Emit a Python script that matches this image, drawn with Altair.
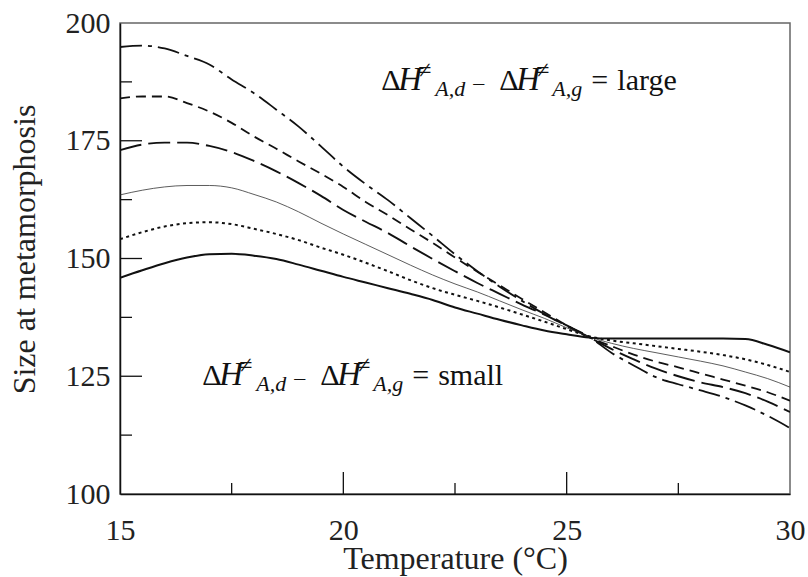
import altair as alt
import pandas as pd

# ---------------- data ----------------
temperature = [15.0, 15.5, 16.0, 16.5, 17.0, 17.5, 18.0, 18.5, 19.0, 19.5,
               20.0, 20.5, 21.0, 21.5, 22.0, 22.5, 23.0, 23.5, 24.0, 24.5,
               25.0, 25.5, 26.0, 26.5, 27.0, 27.5, 28.0, 28.5, 29.0, 29.5, 30.0]

curve_dashdot = [194.9, 195.2, 194.6, 193.0, 191.2, 188.0, 185.1, 181.6, 178.0, 173.8,
                 169.5, 165.8, 162.4, 158.6, 154.8, 150.9, 147.3, 144.0, 141.0, 138.2,
                 135.8, 133.4, 130.0, 127.3, 124.8, 123.3, 122.0, 120.6, 118.8, 116.6, 114.0]
curve_dashed = [184.0, 184.4, 184.4, 183.0, 181.2, 178.8, 175.9, 173.3, 170.6, 168.0,
                165.2, 162.0, 159.2, 156.2, 153.3, 150.2, 147.2, 144.3, 141.4, 138.6,
                135.8, 133.3, 131.4, 129.6, 128.1, 126.9, 125.6, 124.3, 123.0, 121.6, 119.8]
curve_longdash = [173.0, 174.2, 174.6, 174.6, 173.9, 172.6, 170.7, 168.5, 166.0, 163.3,
                  160.3, 157.8, 155.4, 152.6, 149.9, 147.3, 144.8, 142.5, 140.2, 138.1,
                  135.7, 133.3, 130.8, 128.6, 126.6, 125.0, 123.7, 122.7, 121.4, 119.6, 117.4]
curve_thin = [163.5, 164.5, 165.2, 165.5, 165.5, 165.0, 163.6, 162.0, 159.9, 157.5,
              155.2, 153.0, 150.8, 148.6, 146.5, 144.6, 142.9, 141.0, 139.1, 137.3,
              135.3, 133.4, 132.0, 130.9, 130.0, 129.1, 128.2, 127.2, 125.9, 124.5, 122.7]
curve_dotted = [154.1, 155.6, 156.8, 157.5, 157.7, 157.3, 156.3, 155.2, 153.9, 152.3,
                150.8, 149.1, 147.3, 145.4, 143.7, 142.3, 141.0, 139.6, 138.1, 136.6,
                135.0, 133.5, 132.6, 132.0, 131.4, 130.8, 130.2, 129.5, 128.6, 127.4, 125.9]
curve_solid = [145.9, 147.5, 149.0, 150.2, 150.9, 151.0, 150.6, 149.9, 148.7, 147.4,
               146.1, 144.9, 143.7, 142.5, 141.2, 139.6, 138.3, 137.0, 135.8, 134.7,
               133.9, 133.2, 133.0, 133.0, 133.0, 133.0, 133.0, 133.0, 132.9, 131.7, 130.1]

series_names = ["dashdot", "dashed", "longdash", "thin", "dotted", "solid"]
series_values = [curve_dashdot, curve_dashed, curve_longdash, curve_thin, curve_dotted, curve_solid]

x_major_ticks = [20, 25]
x_minor_ticks = [17.5, 22.5, 27.5]
y_major_ticks = [125, 150, 175]
y_minor_ticks = [112.5, 137.5, 162.5, 187.5]

x_label_values = [15, 20, 25, 30]
y_label_values = [100, 125, 150, 175, 200]

SERIF = "Liberation Serif"

xs = alt.Scale(domain=[15, 30], nice=False, zero=False)
ys = alt.Scale(domain=[100, 200], nice=False, zero=False)

x_axis = alt.Axis(values=x_label_values, ticks=False, tickSize=0, grid=False,
                  domainColor="#111", domainWidth=1.5,
                  labelFont=SERIF, labelFontSize=30, labelColor="#222",
                  labelPadding=21, labelFlush=False,
                  title="Temperature (\u00b0C)", titleFont=SERIF, titleFontSize=32,
                  titleFontWeight="normal", titleColor="#222",
                  titleY=74, titleBaseline="alphabetic")
y_axis = alt.Axis(values=y_label_values, ticks=False, tickSize=0, grid=False,
                  domainColor="#111", domainWidth=1.5,
                  labelFont=SERIF, labelFontSize=30, labelColor="#222",
                  labelPadding=10, labelFlush=False,
                  title="Size at metamorphosis", titleFont=SERIF, titleFontSize=32,
                  titleFontWeight="normal", titleColor="#222",
                  titleX=-86, titleY=226, titleAngle=270, titleAlign="center",
                  titleBaseline="alphabetic")


def X(field="T"):
    return alt.X(f"{field}:Q", scale=xs, axis=x_axis)


def Y(field="S"):
    return alt.Y(f"{field}:Q", scale=ys, axis=y_axis)


dashes = [[22, 6, 4, 6], [10, 6], [22, 7], None, [3, 3.5], None]
widths = [1.8, 1.8, 1.9, 0.8, 2.0, 2.0]
colors = ["#111", "#111", "#111", "#333", "#111", "#111"]

line_layers = []
for name, vals, dash, w, c in zip(series_names, series_values, dashes, widths, colors):
    df = pd.DataFrame({"T": temperature, "S": vals})
    kw = dict(color=c, strokeWidth=w, interpolate="monotone", strokeCap="butt", clip=True)
    if dash is not None:
        kw["strokeDash"] = dash
    line_layers.append(alt.Chart(df).mark_line(**kw).encode(x=X(), y=Y()))

# inward ticks
xmaj = alt.Chart(pd.DataFrame({"T": x_major_ticks})).mark_rule(color="#111", strokeWidth=1.3).encode(
    x=X(), y=alt.value(471), y2=alt.value(449))
xmin = alt.Chart(pd.DataFrame({"T": x_minor_ticks})).mark_rule(color="#111", strokeWidth=1.3).encode(
    x=X(), y=alt.value(471), y2=alt.value(460))
ymaj = alt.Chart(pd.DataFrame({"S": y_major_ticks})).mark_rule(color="#111", strokeWidth=1.3).encode(
    y=Y(), x=alt.value(0), x2=alt.value(22))
ymin = alt.Chart(pd.DataFrame({"S": y_minor_ticks})).mark_rule(color="#111", strokeWidth=1.3).encode(
    y=Y(), x=alt.value(0), x2=alt.value(12))

# annotations built from pieces (text, dx, dy, size, style)
ann_pieces = [
    ("\u0394", 0, 0, 30, "normal"),
    ("H", 17, 0, 33, "italic"),
    ("\u2260", 37, -12, 24, "normal"),
    ("A,d", 54, 6, 22, "italic"),
    ("\u2013", 92, 0, 22, "normal"),
    ("\u0394", 118, 0, 30, "normal"),
    ("H", 135, 0, 33, "italic"),
    ("\u2260", 155, -12, 24, "normal"),
    ("A,g", 171, 6, 22, "italic"),
    ("=", 210, 0, 30, "normal"),
]
annotations = [
    (20.85, 185.8, "large"),
    (16.84, 123.1, "small"),
]

text_layers = []
for t0, s0, word in annotations:
    pieces = ann_pieces + [(word, 236, 0, 30, "normal")]
    for txt, dx, dy, size, style in pieces:
        text_layers.append(
            alt.Chart(pd.DataFrame({"label": [txt]})).mark_text(
                align="left", baseline="alphabetic", dx=dx, dy=dy,
                font=SERIF, fontSize=size, fontStyle=style, color="#111"
            ).encode(x=alt.datum(t0, scale=xs), y=alt.datum(s0, scale=ys), text="label:N")
        )

chart = alt.layer(*line_layers, xmaj, xmin, ymaj, ymin, *text_layers).properties(
    width=670, height=471,
    autosize=alt.AutoSizeParams(type="none"),
    padding={"left": 120, "top": 23, "right": 18, "bottom": 83},
    background="white",
).configure_view(stroke="#666", strokeWidth=1.5)

chart.save("out.html", embed_options={"renderer": "svg", "actions": False})
